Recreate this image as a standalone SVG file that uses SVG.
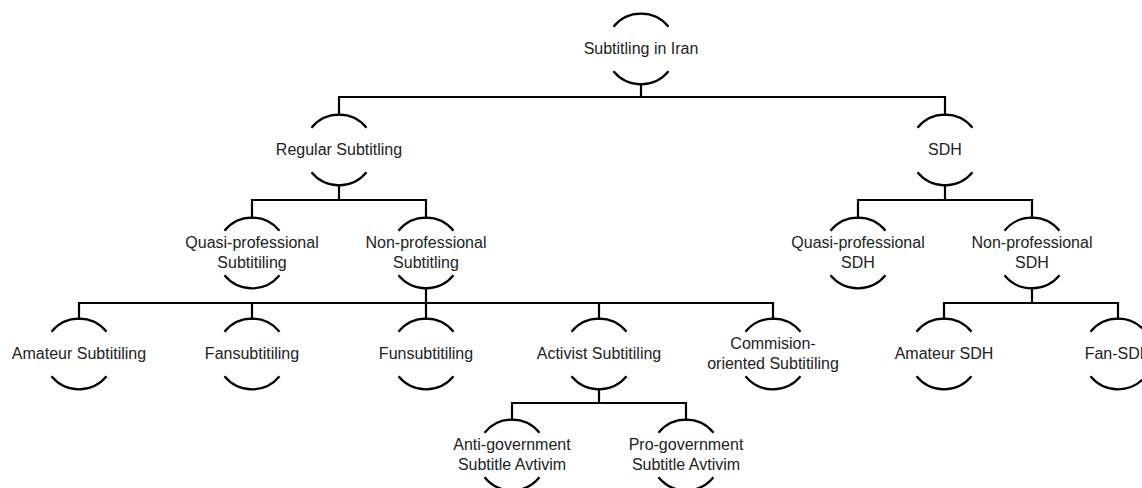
<svg xmlns="http://www.w3.org/2000/svg" width="1142" height="488" viewBox="0 0 1142 488">
<style>
.arc{fill:none;stroke:#000;stroke-width:2.2}
.conn{fill:none;stroke:#000;stroke-width:2.2;stroke-linecap:square}
text{font-family:"Liberation Sans",Arial,sans-serif;font-size:16px;fill:#222;text-anchor:middle}
</style>
<defs>
<g id="ring">
<path class="arc" d="M-27.5 -22.3 A35.5 35.5 0 0 1 27.5 -22.3"/>
<path class="arc" d="M-27.5 22.3 A35.5 35.5 0 0 0 27.5 22.3"/>
</g>
</defs>
<g id="connectors">
<path class="conn" d="M641 84V97M339 97H945M339 97V115M945 97V115"/>
<path class="conn" d="M339 185V200M252 200H426M252 200V218M426 200V218"/>
<path class="conn" d="M945 185V200M858 200H1032M858 200V218M1032 200V218"/>
<path class="conn" d="M426 288V303M79 303H773M79 303V319M252 303V319M426 303V319M599 303V319M773 303V319"/>
<path class="conn" d="M1032 288V303M944 303H1118M944 303V319M1118 303V319"/>
<path class="conn" d="M599 389V403M512 403H686M512 403V420M686 403V420"/>
</g>
<g id="n-root"><use href="#ring" x="641" y="49"/><text x="641" y="54">Subtitling in Iran</text></g>
<g id="n-regular"><use href="#ring" x="339" y="150"/><text x="339" y="155">Regular Subtitling</text></g>
<g id="n-sdh"><use href="#ring" x="945" y="150"/><text x="945" y="155">SDH</text></g>
<g id="n-quasi-sub"><use href="#ring" x="252" y="253"/><text x="252" y="248">Quasi-professional</text><text x="252" y="268">Subtitiling</text></g>
<g id="n-nonprof-sub"><use href="#ring" x="426" y="253"/><text x="426" y="248">Non-professional</text><text x="426" y="268">Subtitling</text></g>
<g id="n-quasi-sdh"><use href="#ring" x="858" y="253"/><text x="858" y="248">Quasi-professional</text><text x="858" y="268">SDH</text></g>
<g id="n-nonprof-sdh"><use href="#ring" x="1032" y="253"/><text x="1032" y="248">Non-professional</text><text x="1032" y="268">SDH</text></g>
<g id="n-amateur-sub"><use href="#ring" x="79" y="354"/><text x="79" y="359">Amateur Subtitiling</text></g>
<g id="n-fansub"><use href="#ring" x="252" y="354"/><text x="252" y="359">Fansubtitiling</text></g>
<g id="n-funsub"><use href="#ring" x="426" y="354"/><text x="426" y="359">Funsubtitiling</text></g>
<g id="n-activist"><use href="#ring" x="599" y="354"/><text x="599" y="359">Activist Subtitiling</text></g>
<g id="n-commision"><use href="#ring" x="773" y="354"/><text x="773" y="349">Commision-</text><text x="773" y="369">oriented Subtitiling</text></g>
<g id="n-amateur-sdh"><use href="#ring" x="944" y="354"/><text x="944" y="359">Amateur SDH</text></g>
<g id="n-fan-sdh"><use href="#ring" x="1118" y="354"/><text x="1118" y="359">Fan-SDH</text></g>
<g id="n-anti"><use href="#ring" x="512" y="455"/><text x="512" y="450">Anti-government</text><text x="512" y="470">Subtitle Avtivim</text></g>
<g id="n-pro"><use href="#ring" x="686" y="455"/><text x="686" y="450">Pro-government</text><text x="686" y="470">Subtitle Avtivim</text></g>
</svg>
